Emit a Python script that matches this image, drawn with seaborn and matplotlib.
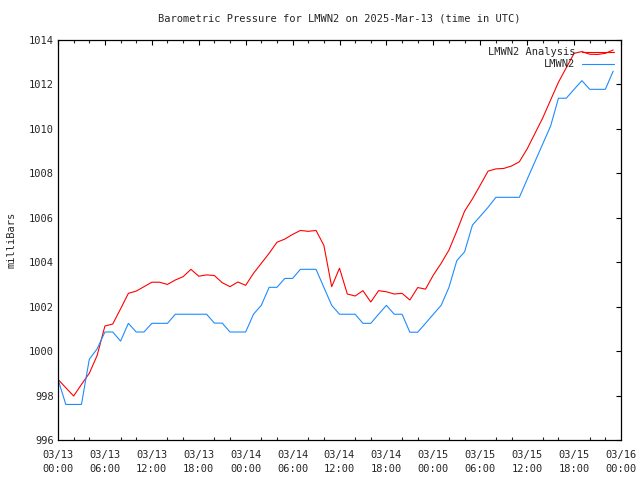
import matplotlib
matplotlib.use("Agg")
import matplotlib.pyplot as plt
import matplotlib.dates as mdates
import numpy as np
import pandas as pd
import seaborn as sns

# ---- data (hourly, UTC, starting 2025-03-13 00:00) ----
start_time = "2025-03-13 00:00"
analysis_mb = [
    998.73, 998.35, 997.98, 998.50, 999.00, 999.80, 1001.13, 1001.22,
    1001.90, 1002.60, 1002.70, 1002.90, 1003.10, 1003.10, 1003.00, 1003.20,
    1003.35, 1003.68, 1003.37, 1003.43, 1003.40, 1003.08, 1002.90, 1003.11,
    1002.96, 1003.50, 1003.95, 1004.40, 1004.90, 1005.04, 1005.25, 1005.43,
    1005.39, 1005.43, 1004.76, 1002.90, 1003.73, 1002.57, 1002.48, 1002.72,
    1002.21, 1002.72, 1002.67, 1002.57, 1002.60, 1002.30, 1002.86, 1002.79,
    1003.42, 1003.95, 1004.55, 1005.40, 1006.30, 1006.85, 1007.47, 1008.10,
    1008.20, 1008.22, 1008.33, 1008.52, 1009.10, 1009.80, 1010.50, 1011.30,
    1012.10, 1012.75, 1013.40, 1013.48, 1013.36, 1013.35, 1013.40, 1013.55,
]
observed_mb = [
    998.73, 997.60, 997.60, 997.60, 999.63, 1000.10, 1000.86, 1000.86,
    1000.45, 1001.25, 1000.86, 1000.86, 1001.25, 1001.25, 1001.25, 1001.66,
    1001.66, 1001.66, 1001.66, 1001.66, 1001.26, 1001.26, 1000.86, 1000.86,
    1000.86, 1001.66, 1002.06, 1002.87, 1002.87, 1003.27, 1003.27, 1003.68,
    1003.68, 1003.68, 1002.87, 1002.06, 1001.66, 1001.66, 1001.66, 1001.25,
    1001.25, 1001.66, 1002.06, 1001.66, 1001.66, 1000.85, 1000.85, 1001.25,
    1001.66, 1002.06, 1002.87, 1004.07, 1004.47, 1005.67, 1006.07, 1006.47,
    1006.92, 1006.92, 1006.92, 1006.92, 1007.73, 1008.53, 1009.33, 1010.13,
    1011.38, 1011.38, 1011.78, 1012.17, 1011.78, 1011.78, 1011.78, 1012.60,
]
series_names = ["LMWN2 Analysis", "LMWN2"]
series_colors = ["#ff0000", "#1e8cff"]
y_ticks = [996, 998, 1000, 1002, 1004, 1006, 1008, 1010, 1012, 1014]
title_text = "Barometric Pressure for LMWN2 on 2025-Mar-13 (time in UTC)"
y_label = "milliBars"

times = pd.date_range(start_time, periods=len(observed_mb), freq="h")
df = pd.concat([
    pd.DataFrame({"time": times, "pressure": analysis_mb, "series": series_names[0]}),
    pd.DataFrame({"time": times, "pressure": observed_mb, "series": series_names[1]}),
], ignore_index=True)

sns.set_style("white")
plt.rcParams["font.family"] = ["DejaVu Sans Mono", "DejaVu Sans"]
FS = 7.5

fig = plt.figure(figsize=(6.4, 4.8), dpi=100)
ax = fig.add_axes([58 / 640, 1 - 440 / 480, (621 - 58) / 640, 400 / 480])

sns.lineplot(data=df, x="time", y="pressure", hue="series", hue_order=series_names,
             palette=dict(zip(series_names, series_colors)), linewidth=0.8,
             ax=ax, legend=False)

ax.set_xlim(pd.Timestamp(start_time), pd.Timestamp(start_time) + pd.Timedelta(hours=72))
ax.set_ylim(996, 1014)
ax.set_yticks(y_ticks)
ax.set_yticklabels([str(t) for t in y_ticks])
ax.xaxis.set_major_locator(mdates.HourLocator(byhour=[0, 6, 12, 18]))
ax.xaxis.set_minor_locator(mdates.HourLocator(byhour=list(range(0, 24, 2))))
ax.xaxis.set_major_formatter(mdates.DateFormatter("%m/%d\n%H:%M"))

for s in ax.spines.values():
    s.set_visible(True)
    s.set_color("black")
    s.set_linewidth(0.9)

ax.tick_params(axis="both", which="major", direction="in", length=3.6, width=0.8,
               top=True, right=True, labelsize=FS, color="black")
ax.tick_params(axis="x", which="minor", direction="in", length=2.0, width=0.8,
               top=True, bottom=True)
ax.tick_params(axis="x", which="major", pad=7)
ax.tick_params(axis="y", which="major", pad=3)
for lab in ax.get_xticklabels():
    lab.set_linespacing(1.55)

ax.set_xlabel("")
ax.set_ylabel(y_label, fontsize=FS, labelpad=9)
ax.set_title(title_text, fontsize=FS, pad=13)

handles = [plt.Line2D([], [], color=c, linewidth=0.8) for c in series_colors]
leg = ax.legend(handles, series_names, loc="upper right", frameon=False, fontsize=FS,
                markerfirst=False, handlelength=3.0, handletextpad=0.7,
                labelspacing=0.2, borderaxespad=0.4, borderpad=0.3)

fig.savefig("out.png", dpi=100)
